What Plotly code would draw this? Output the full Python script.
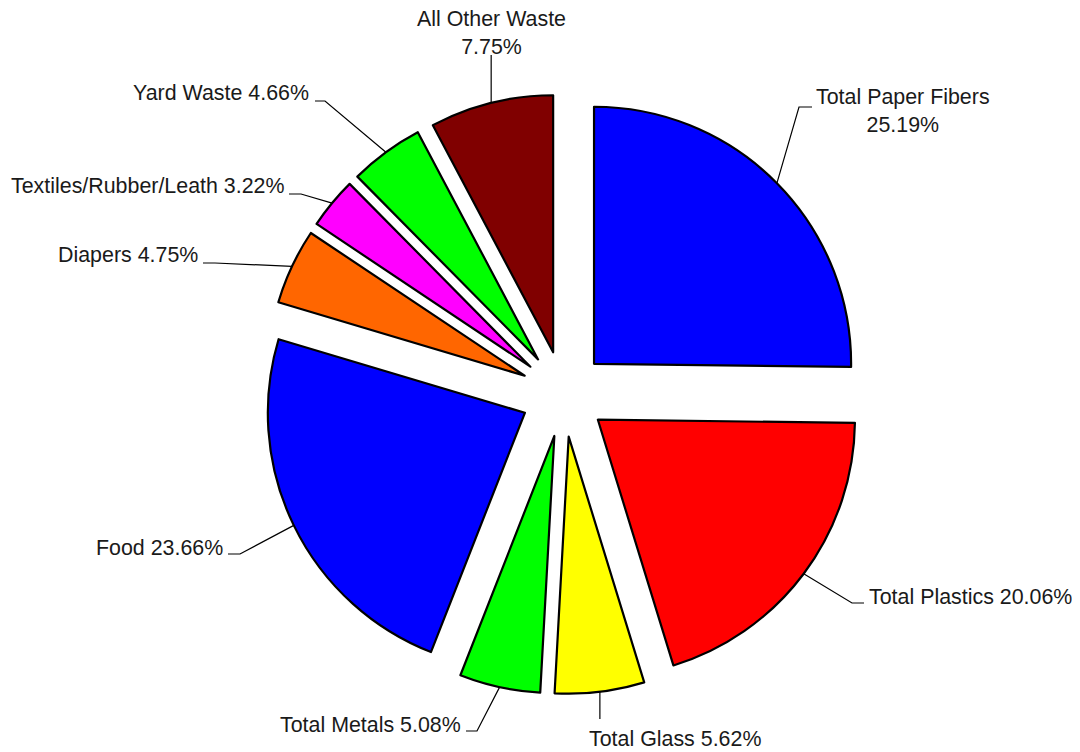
import math
import plotly.graph_objects as go

# ---------------- data ----------------
categories = [
    "Total Paper Fibers", "Total Plastics", "Total Glass", "Total Metals",
    "Food", "Diapers", "Textiles/Rubber/Leath", "Yard Waste", "All Other Waste",
]
shares = [25.19, 20.06, 5.62, 5.08, 23.66, 4.75, 3.22, 4.66, 7.75]
slice_colors = [
    "#0000FF", "#FF0000", "#FFFF00", "#00FF00", "#0000FF",
    "#FF6600", "#FF00FF", "#00FF00", "#800000",
]
label_texts = [
    "Total Paper Fibers<br>25.19%",
    "Total Plastics 20.06%",
    "Total Glass 5.62%",
    "Total Metals 5.08%",
    "Food 23.66%",
    "Diapers 4.75%",
    "Textiles/Rubber/Leath 3.22%",
    "Yard Waste 4.66%",
    "All Other Waste<br>7.75%",
]

# ---------------- geometry / style ----------------
OFF = 8                      # page body margin
W, H = 1080 - OFF, 752 - OFF  # figure size
PULL = 0.167
PIE_CENTER_PAGE = (563.5, 394.0)
PIE_BOX = 600.0
FONT = dict(family="Liberation Sans, Arial, sans-serif", size=21.4, color="#1a1a1a")

cxf = PIE_CENTER_PAGE[0] - OFF
cyf = PIE_CENTER_PAGE[1] - OFF
DOM_X = [(cxf - PIE_BOX / 2) / W, (cxf + PIE_BOX / 2) / W]
DOM_Y = [1 - (cyf + PIE_BOX / 2) / H, 1 - (cyf - PIE_BOX / 2) / H]

# label layout in page pixels: elbow (None x => vertical line), tail length, text anchor
LABEL_LAYOUT = [
    dict(elbow=(799, 107), tail=13, text=(814, 111), xa="left", ya="middle", align="center"),
    dict(elbow=(852, 603), tail=12, text=(867, 597), xa="left", ya="middle", align="left"),
    dict(elbow=(None, 719), tail=0, text=(587, 739), xa="left", ya="middle", align="left"),
    dict(elbow=(477, 731), tail=-11, text=(463, 725), xa="right", ya="middle", align="right"),
    dict(elbow=(240, 554), tail=-12, text=(225, 548), xa="right", ya="middle", align="right"),
    dict(elbow=(215, 263), tail=-12, text=(200, 255), xa="right", ya="middle", align="right"),
    dict(elbow=(301, 194), tail=-12, text=(287, 186), xa="right", ya="middle", align="right"),
    dict(elbow=(325, 101), tail=-10, text=(311, 93), xa="right", ya="middle", align="right"),
    dict(elbow=(None, 55), tail=0, text=(None, 33), xa="center", ya="middle", align="center"),
]

fig = go.Figure(
    go.Pie(
        labels=categories,
        values=shares,
        sort=False,
        direction="clockwise",
        rotation=0,
        pull=[PULL] * len(shares),
        marker=dict(colors=slice_colors, line=dict(color="#000000", width=2.2)),
        textinfo="none",
        hoverinfo="label+percent",
        domain=dict(x=DOM_X, y=DOM_Y),
        showlegend=False,
    )
)

# pie geometry in page pixels (same formula plotly uses)
pw = W * (DOM_X[1] - DOM_X[0])
ph = H * (DOM_Y[1] - DOM_Y[0])
R = min(pw, ph) / 2 / (1 + PULL)
CX = W * (DOM_X[0] + DOM_X[1]) / 2 + OFF
CY = H * (1 - (DOM_Y[0] + DOM_Y[1]) / 2) + OFF


def px2paper(x, y):
    return (x - OFF) / W, 1 - (y - OFF) / H


total = sum(shares)
cum = 0.0
shapes = []
annotations = []
for val, txt, lay in zip(shares, label_texts, LABEL_LAYOUT):
    theta = 2 * math.pi * (cum + val / 2) / total
    cum += val
    ax = CX + R * (1 + PULL) * math.sin(theta)
    ay = CY - R * (1 + PULL) * math.cos(theta)
    ex, ey = lay["elbow"]
    if ex is None:
        ex = ax
    pts = [(ax, ay), (ex, ey)]
    if lay["tail"]:
        pts.append((ex + lay["tail"], ey))
    path = ""
    for i, (x, y) in enumerate(pts):
        xp, yp = px2paper(x, y)
        path += ("M" if i == 0 else " L") + f" {xp:.5f},{yp:.5f}"
    shapes.append(dict(type="path", path=path, xref="paper", yref="paper",
                       line=dict(color="#000000", width=1.2)))
    tx, ty = lay["text"]
    if tx is None:
        tx = ax
    xp, yp = px2paper(tx, ty)
    annotations.append(dict(
        text=txt, x=xp, y=yp, xref="paper", yref="paper",
        xanchor=lay["xa"], yanchor=lay["ya"], align=lay["align"],
        showarrow=False, font=FONT,
    ))

fig.update_layout(
    width=W, height=H,
    margin=dict(l=0, r=0, t=0, b=0),
    paper_bgcolor="#FFFFFF",
    plot_bgcolor="#FFFFFF",
    shapes=shapes,
    annotations=annotations,
)

fig.write_html("out.html")
